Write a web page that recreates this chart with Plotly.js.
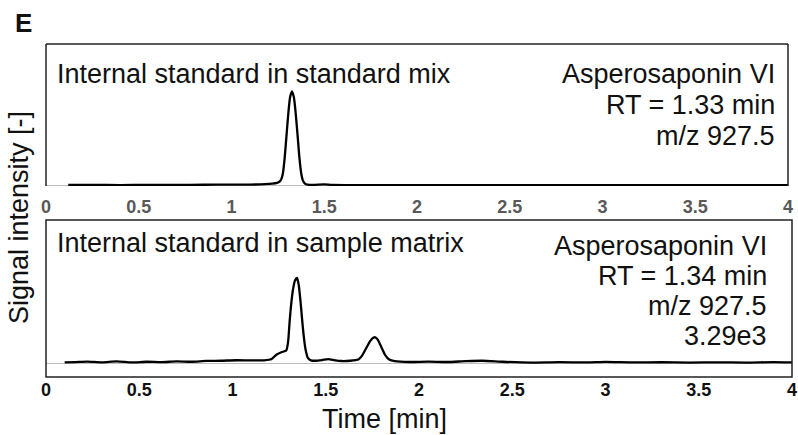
<!DOCTYPE html>
<html>
<head>
<meta charset="utf-8">
<script src="https://cdn.plot.ly/plotly-3.0.1.min.js"></script>
<style>html,body{margin:0;padding:0;background:#fff;}#chart{width:798px;height:435px;}</style>
</head>
<body>
<div id="chart"></div>
<script>
// ---- Data ----
const tickVals = [0, 0.5, 1, 1.5, 2, 2.5, 3, 3.5, 4];
const tickLabels = ["0", "0.5", "1", "1.5", "2", "2.5", "3", "3.5", "4"];

// Top panel: internal standard in standard mix (normalized intensity)
const stdTime = [0.12, 0.25, 0.40, 0.55, 0.70, 0.85, 1.00, 1.10, 1.18, 1.22, 1.245, 1.256, 1.266, 1.276, 1.286, 1.296, 1.306, 1.316, 1.326, 1.336, 1.346, 1.356, 1.366, 1.376, 1.386, 1.396, 1.41, 1.44, 1.50, 1.54, 1.65, 1.80, 2.00, 2.30, 2.60, 3.00, 3.40, 3.70, 4.00];
const stdSignal = [0.008, 0.009, 0.007, 0.009, 0.008, 0.010, 0.011, 0.012, 0.016, 0.022, 0.03, 0.04, 0.06, 0.12, 0.28, 0.52, 0.76, 0.94, 1.0, 0.94, 0.77, 0.54, 0.30, 0.13, 0.05, 0.022, 0.012, 0.008, 0.014, 0.008, 0.006, 0.007, 0.006, 0.007, 0.006, 0.006, 0.005, 0.006, 0.005];

// Bottom panel: internal standard in sample matrix (normalized intensity)
const matTime = [0.10, 0.16, 0.22, 0.30, 0.38, 0.46, 0.54, 0.62, 0.70, 0.78, 0.86, 0.94, 1.02, 1.10, 1.17, 1.21, 1.235, 1.262, 1.288, 1.298, 1.306, 1.315, 1.324, 1.335, 1.346, 1.355, 1.364, 1.375, 1.384, 1.392, 1.405, 1.42, 1.445, 1.48, 1.513, 1.55, 1.585, 1.63, 1.675, 1.695, 1.715, 1.738, 1.755, 1.765, 1.778, 1.795, 1.818, 1.84, 1.87, 1.95, 2.05, 2.15, 2.25, 2.34, 2.45, 2.60, 2.75, 2.90, 3.00, 3.15, 3.30, 3.45, 3.60, 3.75, 3.90, 4.00];
const matSignal = [0.010, 0.014, 0.020, 0.012, 0.022, 0.010, 0.018, 0.014, 0.022, 0.018, 0.028, 0.030, 0.036, 0.034, 0.035, 0.050, 0.10, 0.13, 0.15, 0.25, 0.48, 0.70, 0.86, 0.97, 1.0, 0.92, 0.74, 0.47, 0.28, 0.16, 0.06, 0.035, 0.030, 0.038, 0.050, 0.035, 0.027, 0.030, 0.045, 0.09, 0.17, 0.26, 0.30, 0.305, 0.28, 0.205, 0.10, 0.045, 0.025, 0.015, 0.020, 0.015, 0.025, 0.030, 0.018, 0.008, 0.014, 0.010, 0.016, 0.010, 0.014, 0.008, 0.012, 0.008, 0.014, 0.010];

const topLeftText = "Internal standard in standard mix";
const topRightLines = ["Asperosaponin VI", "RT = 1.33 min", "m/z 927.5"];
const botLeftText = "Internal standard in sample matrix";
const botRightLines = ["Asperosaponin VI", "RT = 1.34 min", "m/z 927.5", "3.29e3"];

// ---- Layout helpers (pixel -> paper) ----
const W = 798, H = 435;
const px = v => v / W;
const py = v => 1 - v / H;
const FONT = "Arial, 'Liberation Sans', sans-serif";
const TXT = "#111111";

const traces = [
  {x: stdTime, y: stdSignal, xaxis: "x", yaxis: "y", mode: "lines",
   line: {color: "#000", width: 2.3, shape: "spline", smoothing: 0.6}, hoverinfo: "skip"},
  {x: matTime, y: matSignal, xaxis: "x2", yaxis: "y2", mode: "lines",
   line: {color: "#000", width: 2.3, shape: "spline", smoothing: 0.6}, hoverinfo: "skip"}
];

const ann = [];
ann.push({text: "E", x: px(23), y: py(23), xref: "paper", yref: "paper", xanchor: "center", yanchor: "middle",
  showarrow: false, font: {family: FONT, size: 26, color: TXT, weight: "bold"}});
ann.push({text: topLeftText, x: px(55), y: py(74), xref: "paper", yref: "paper", xanchor: "left", yanchor: "middle",
  showarrow: false, font: {family: FONT, size: 27, color: TXT}});
const topY = [74, 105, 136];
topRightLines.forEach((t, i) => ann.push({text: t, x: px(777), y: py(topY[i]), xref: "paper", yref: "paper",
  xanchor: "right", yanchor: "middle", showarrow: false, font: {family: FONT, size: 27, color: TXT}}));
ann.push({text: botLeftText, x: px(55), y: py(243), xref: "paper", yref: "paper", xanchor: "left", yanchor: "middle",
  showarrow: false, font: {family: FONT, size: 27, color: TXT}});
const botY = [246, 276, 306, 336];
botRightLines.forEach((t, i) => ann.push({text: t, x: px(769), y: py(botY[i]), xref: "paper", yref: "paper",
  xanchor: "right", yanchor: "middle", showarrow: false, font: {family: FONT, size: 27, color: TXT}}));
ann.push({text: "Time [min]", x: px(384), y: py(419), xref: "paper", yref: "paper", xanchor: "center", yanchor: "middle",
  showarrow: false, font: {family: FONT, size: 27, color: TXT}});
ann.push({text: "Signal intensity [-]", x: px(19), y: py(218), xref: "paper", yref: "paper", xanchor: "center", yanchor: "middle",
  textangle: -90, showarrow: false, font: {family: FONT, size: 27, color: TXT}});

const shapes = [
  // top panel frame (left, top, right black; bottom is gray zero line)
  {type: "line", xref: "x domain", yref: "y domain", x0: 0, x1: 0, y0: 0, y1: 1, line: {color: "#222", width: 1.5}},
  {type: "line", xref: "x domain", yref: "y domain", x0: 0, x1: 1, y0: 1, y1: 1, line: {color: "#222", width: 1.5}},
  {type: "line", xref: "x domain", yref: "y domain", x0: 1, x1: 1, y0: 0, y1: 1, line: {color: "#222", width: 1.5}},
  // bottom panel frame
  {type: "rect", xref: "x2 domain", yref: "y2 domain", x0: 0, x1: 1, y0: 0, y1: 1, line: {color: "#222", width: 1.5}}
];

const layout = {
  width: W, height: H,
  margin: {l: 0, r: 0, t: 0, b: 0},
  paper_bgcolor: "#fff", plot_bgcolor: "#fff",
  showlegend: false,
  font: {family: FONT},
  xaxis: {domain: [px(46), px(788)], range: [0, 4], anchor: "y", tickvals: tickVals, ticktext: tickLabels,
    ticks: "", showgrid: false, zeroline: false, showline: false, ticklabelstandoff: 8,
    tickfont: {family: FONT, size: 18, color: "#595959", weight: "bold"}, fixedrange: true},
  yaxis: {domain: [py(186), py(44)], range: [-0.003, 1.503], anchor: "x", showticklabels: false, ticks: "",
    showgrid: false, zeroline: true, zerolinecolor: "#bdbdbd", zerolinewidth: 1, showline: false, fixedrange: true},
  xaxis2: {domain: [px(46), px(792)], range: [0, 4], anchor: "y2", tickvals: tickVals, ticktext: tickLabels,
    ticks: "", showgrid: false, zeroline: false, showline: false, ticklabelstandoff: 0,
    tickfont: {family: FONT, size: 18, color: "#111", weight: "bold"}, fixedrange: true},
  yaxis2: {domain: [py(377), py(220)], range: [-0.1606, 1.68], anchor: "x2", showticklabels: false, ticks: "",
    showgrid: false, zeroline: true, zerolinecolor: "#bdbdbd", zerolinewidth: 1, showline: false, fixedrange: true},
  annotations: ann,
  shapes: shapes
};

Plotly.newPlot("chart", traces, layout, {displayModeBar: false, staticPlot: true});
</script>
</body>
</html>
